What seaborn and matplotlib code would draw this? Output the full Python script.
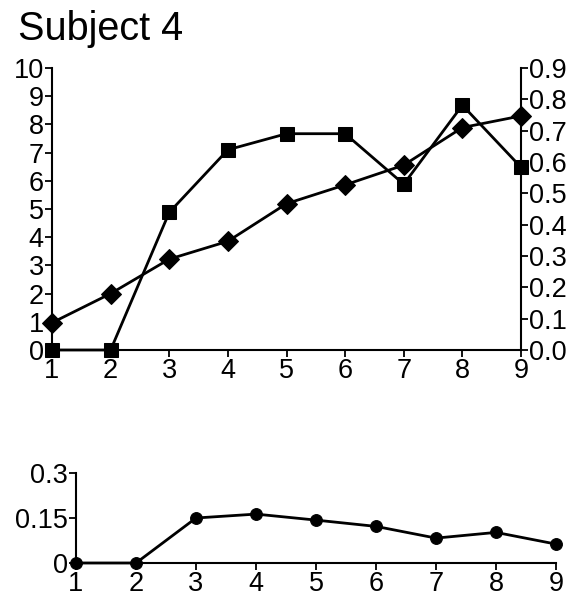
import numpy as np
import pandas as pd
import matplotlib
matplotlib.use("Agg")
import matplotlib.pyplot as plt
import seaborn as sns

sns.set_style("ticks")
plt.rcParams['font.family'] = ['Liberation Sans', 'DejaVu Sans']
plt.rcParams['text.color'] = 'black'

sessions = [1, 2, 3, 4, 5, 6, 7, 8, 9]
squares = [0, 0, 4.88, 7.1, 7.67, 7.67, 5.88, 8.68, 6.48]           # left axis
diamonds = [0.087, 0.18, 0.29, 0.347, 0.467, 0.527, 0.59, 0.71, 0.747]  # right axis
lower = [0, 0, 0.15, 0.163, 0.143, 0.122, 0.083, 0.102, 0.063]

left_ticks = list(range(0, 11))
right_ticks = [0.0, 0.1, 0.2, 0.3, 0.4, 0.5, 0.6, 0.7, 0.8, 0.9]
lower_ticks = [0, 0.15, 0.3]
lower_labels = ["0", "0.15", "0.3"]

fs = 19.5
lw = 2.0
fig = plt.figure(figsize=(5.83, 5.96), dpi=100)

# top panel
ax = fig.add_axes([52/583, 1 - 350/596, 469/583, 282/596])
sns.lineplot(x=sessions, y=squares, ax=ax, color="black", linewidth=lw,
             marker="s", markersize=10, markeredgecolor="black", clip_on=False)
ax.set_xlim(1, 9)
ax.set_ylim(0, 10)
ax.set_xticks(sessions)
ax.set_yticks(left_ticks)
ax.tick_params(labelsize=fs, length=5, width=1.3, pad=1, direction="out",
               colors="black")
for s in ["left", "bottom"]:
    ax.spines[s].set_linewidth(1.5)
    ax.spines[s].set_color("black")
ax.spines["top"].set_visible(False)
ax.spines["right"].set_visible(False)

ax2 = ax.twinx()
sns.lineplot(x=sessions, y=diamonds, ax=ax2, color="black", linewidth=lw,
             marker="D", markersize=10, markeredgecolor="black", clip_on=False)
ax2.set_ylim(0, 0.9)
ax2.set_yticks(right_ticks)
ax2.set_yticklabels([f"{t:.1f}" for t in right_ticks])
ax2.tick_params(labelsize=fs, length=5, width=1.3, pad=1, direction="out",
                colors="black")
ax2.spines["right"].set_linewidth(1.5)
ax2.spines["right"].set_color("black")
ax2.spines["top"].set_visible(False)
ax2.spines["left"].set_visible(False)
ax2.spines["bottom"].set_visible(False)

fig.text(18/583, 1 - 40/596, "Subject 4", fontsize=28.5, color="black",
         ha="left", va="baseline")

# bottom panel
bx = fig.add_axes([76/583, 1 - 563/596, 480/583, 90/596])
sns.lineplot(x=sessions, y=lower, ax=bx, color="black", linewidth=lw,
             marker="o", markersize=8.5, markeredgecolor="black", clip_on=False)
bx.set_xlim(1, 9)
bx.set_ylim(0, 0.3)
bx.set_xticks(sessions)
bx.set_yticks(lower_ticks)
bx.set_yticklabels(lower_labels)
bx.tick_params(labelsize=fs, length=5, width=1.3, pad=1, direction="out",
               colors="black")
for s in ["left", "bottom"]:
    bx.spines[s].set_linewidth(1.5)
    bx.spines[s].set_color("black")
bx.spines["top"].set_visible(False)
bx.spines["right"].set_visible(False)

fig.savefig("out.png", dpi=100)
